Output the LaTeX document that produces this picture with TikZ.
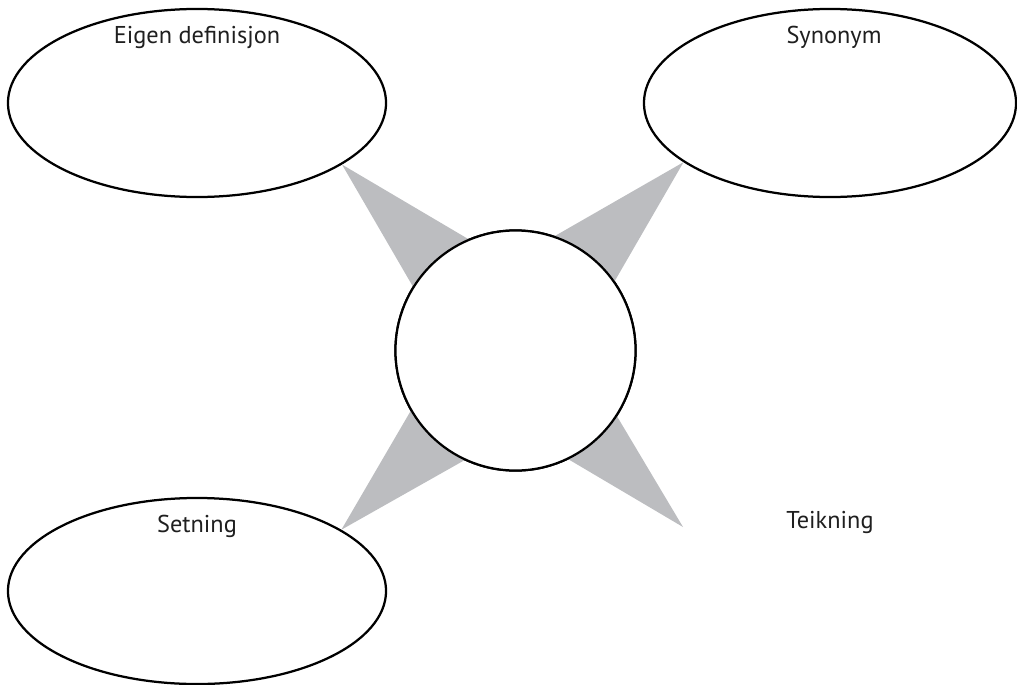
\documentclass[tikz,border=0pt]{standalone}
\usepackage{fontspec}
\setmainfont{PT Sans}
\usetikzlibrary{shapes.geometric}
\tikzset{
  bubble/.style={draw, ellipse, line width=1.6pt, fill=white, inner sep=0pt, minimum width=9.45cm, minimum height=4.7cm},
  hub/.style={draw, circle, line width=1.6pt, fill=white, inner sep=0pt, minimum size=6cm},
  caption/.style={anchor=base, font=\fontsize{17.3}{20}\selectfont, text=black!88}
}
\begin{document}
\begin{tikzpicture}[x=0.025cm, y=-0.025cm]
\definecolor{wedge}{HTML}{BCBDC0}
\useasboundingbox (0,0) rectangle (1017,684);
\node[bubble] (definisjon) at (197,103) {};
\node[bubble, minimum width=9.3cm] (synonym) at (830,103) {};
\node[bubble, minimum height=4.65cm] (setning) at (197,591) {};
\coordinate (teikning) at (683,527);
\node[hub] (centre) at (515.5,350.5) {};
\fill[wedge] (definisjon.-23.8) -- (centre.113) -- (centre.148) -- cycle;
\fill[wedge] (synonym.202.3) -- (centre.71) -- (centre.35) -- cycle;
\fill[wedge] (setning.23.7) -- (centre.210) -- (centre.245) -- cycle;
\fill[wedge] (teikning) -- (centre.327) -- (centre.296) -- cycle;
\node[hub] at (centre) {};
\node[caption] (definisjonText) at (197,43) {Eigen definisjon};
\node[caption] (synonymText) at (834,43) {Synonym};
\node[caption] (setningText) at (197,532) {Setning};
\node[caption] (teikningText) at (830,528) {Teikning};
\end{tikzpicture}
\end{document}
